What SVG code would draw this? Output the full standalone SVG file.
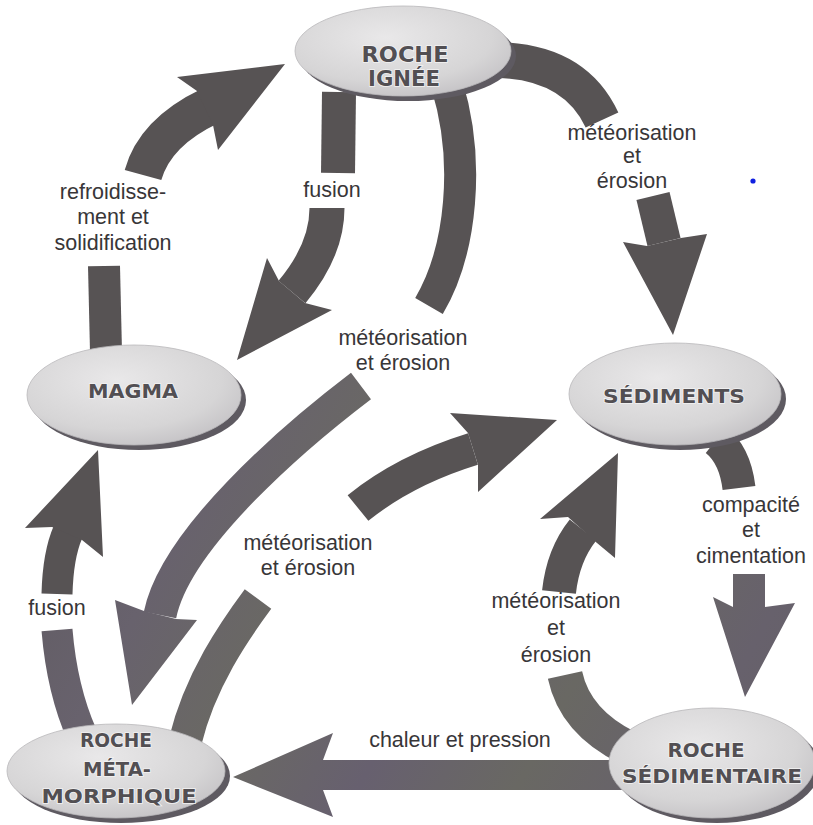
<svg xmlns="http://www.w3.org/2000/svg" width="813" height="825" viewBox="0 0 813 825">
<style>
.sh{fill:none;stroke-linecap:butt}
.dk{stroke:#575354}
.dkf{fill:#575354}
.tn{stroke:url(#tint)}
.tnf{fill:url(#tint)}
.shadow{fill:#5e5a61}
.oval{fill:url(#ovalg);stroke:#b9b7ba;stroke-width:0.8}
.nt{font-family:"DejaVu Sans","Liberation Sans",sans-serif;font-weight:bold;fill:#524f53;stroke:#f2f2f2;stroke-width:1.6;paint-order:stroke;text-anchor:middle}
.lb{font-family:"Liberation Sans",Arial,sans-serif;font-size:21.5px;fill:#383638;text-anchor:middle}
</style>
<defs>
<radialGradient id="ovalg" cx="0.42" cy="0.35" r="0.7">
<stop offset="0" stop-color="#e9e8e9"/>
<stop offset="0.7" stop-color="#d6d5d6"/>
<stop offset="1" stop-color="#c4c2c5"/>
</radialGradient>
<linearGradient id="tint" gradientUnits="userSpaceOnUse" x1="0" y1="380" x2="813" y2="825">
<stop offset="0" stop-color="#5c585b"/>
<stop offset="0.25" stop-color="#68626d"/>
<stop offset="0.4" stop-color="#6a6963"/>
<stop offset="0.55" stop-color="#67606f"/>
<stop offset="0.7" stop-color="#696863"/>
<stop offset="0.85" stop-color="#67616c"/>
<stop offset="1" stop-color="#646064"/>
</linearGradient>
</defs>
<rect width="813" height="825" fill="#ffffff"/>

<g id="connectors">
<g id="arrow-refroidissement">
<path class="sh dk" stroke-width="32" d="M104,266 L106,352"/>
<path class="sh dk" stroke-width="38" d="M143,175 C150,150 170,125 210,106"/>
<polygon class="dkf" points="177,77 285,64 218,150 213,125 197,91"/>
</g>
<g id="arrow-fusion-top">
<path class="sh dk" stroke-width="34" d="M339,92 L338,173"/>
<path class="sh dk" stroke-width="35" d="M327,208 C327,240 312,268 292,292"/>
<polygon class="dkf" points="267,258 279,281 305,303 332,310 237,360"/>
</g>
<g id="arrow-ignee-erosion-tail">
<path class="sh dk" stroke-width="32" d="M447,85 C470,160 462,250 429,306"/>
</g>
<g id="arrow-erosion-to-meta">
<path class="sh tn" stroke-width="33" d="M361,386 C290,440 175,540 160,615"/>
<polygon class="tnf" points="115,600 144,611 176,619 197,620 132,705"/>
</g>
<g id="arrow-meta-erosion-tail">
<path class="sh tn" stroke-width="33" d="M258,599 C235,630 200,680 185,742"/>
</g>
<g id="arrow-fusion-left">
<path class="sh tn" stroke-width="31" d="M57,630 Q62,690 82,735"/>
<path class="sh dk" stroke-width="31" d="M57,594 Q58,555 68,532"/>
<polygon class="dkf" points="25,528 52,527 82,540 103,557 98,450"/>
</g>
<g id="arrow-to-sediments-mid">
<path class="sh dk" stroke-width="33" d="M358,508 Q405,470 473,449"/>
<polygon class="dkf" points="450,413 468,433 478,465 478,492 557,420"/>
</g>
<g id="arrow-ignee-right-tail">
<path class="sh dk" stroke-width="36" d="M498,60 Q575,62 602,120"/>
</g>
<g id="arrow-to-sediments-top">
<path class="sh dk" stroke-width="34" d="M653,196 L664,242"/>
<polygon class="dkf" points="623,242 647,246 681,238 707,234 673,335"/>
</g>
<g id="arrow-compacite-tail">
<path class="sh dk" stroke-width="33" d="M716,440 Q735,455 739,488"/>
</g>
<g id="arrow-to-sedimentaire">
<path class="sh tn" stroke-width="32" d="M749,574 L749,608"/>
<polygon class="tnf" points="713,597 733,607 765,607 795,603 745,697"/>
</g>
<g id="arrow-sedimentaire-erosion">
<path class="sh tn" stroke-width="35" d="M565,675 Q575,722 628,748"/>
<path class="sh dk" stroke-width="34" d="M559,592 Q563,555 583,530"/>
<polygon class="dkf" points="540,519 568,517 597,543 615,558 618,453"/>
</g>
<g id="arrow-chaleur-pression">
<path class="sh tn" stroke-width="30" d="M320,775 L625,775"/>
<polygon class="tnf" points="333,733 323,760 323,790 333,817 233,777"/>
</g>
</g>

<g id="labels">
<text class="lb" x="113" y="199">refroidisse-</text>
<text class="lb" x="113" y="224">ment et</text>
<text class="lb" x="113" y="250">solidification</text>
<text class="lb" x="332" y="197">fusion</text>
<text class="lb" x="403" y="345">météorisation</text>
<text class="lb" x="403" y="370">et érosion</text>
<text class="lb" x="632" y="140">météorisation</text>
<text class="lb" x="632" y="163">et</text>
<text class="lb" x="632" y="188">érosion</text>
<text class="lb" x="751" y="512">compacité</text>
<text class="lb" x="751" y="537">et</text>
<text class="lb" x="751" y="563">cimentation</text>
<text class="lb" x="556" y="608">météorisation</text>
<text class="lb" x="556" y="635">et</text>
<text class="lb" x="556" y="662">érosion</text>
<text class="lb" x="308" y="550">météorisation</text>
<text class="lb" x="308" y="575">et érosion</text>
<text class="lb" x="57" y="615">fusion</text>
<text class="lb" x="460" y="747">chaleur et pression</text>
</g>

<g id="node-roche-ignee">
<ellipse class="shadow" cx="408" cy="56" rx="108" ry="45"/>
<ellipse class="oval" cx="403" cy="51" rx="108" ry="45"/>
<text class="nt" font-size="21" x="405" y="62" textLength="87" lengthAdjust="spacingAndGlyphs">ROCHE</text>
<text class="nt" font-size="21" x="404" y="86" textLength="72" lengthAdjust="spacingAndGlyphs">IGNÉE</text>
</g>
<g id="node-magma">
<ellipse class="shadow" cx="139" cy="400" rx="107" ry="50"/>
<ellipse class="oval" cx="134" cy="395" rx="107" ry="50"/>
<text class="nt" font-size="19" x="133" y="398" textLength="90" lengthAdjust="spacingAndGlyphs">MAGMA</text>
</g>
<g id="node-sediments">
<ellipse class="shadow" cx="680" cy="399" rx="106" ry="51"/>
<ellipse class="oval" cx="675" cy="394" rx="106" ry="51"/>
<text class="nt" font-size="20" x="674" y="403" textLength="142" lengthAdjust="spacingAndGlyphs">SÉDIMENTS</text>
</g>
<g id="node-roche-metamorphique">
<ellipse class="shadow" cx="121" cy="776" rx="109" ry="47"/>
<ellipse class="oval" cx="116" cy="771" rx="109" ry="47"/>
<text class="nt" font-size="19" x="116" y="747" textLength="72" lengthAdjust="spacingAndGlyphs">ROCHE</text>
<text class="nt" font-size="19" x="117" y="776" textLength="68" lengthAdjust="spacingAndGlyphs">MÉTA-</text>
<text class="nt" font-size="19" x="119" y="803" textLength="155" lengthAdjust="spacingAndGlyphs">MORPHIQUE</text>
</g>
<g id="node-roche-sedimentaire">
<ellipse class="shadow" cx="717" cy="768" rx="103" ry="55"/>
<ellipse class="oval" cx="712" cy="763" rx="103" ry="55"/>
<text class="nt" font-size="20" x="706" y="757" textLength="77" lengthAdjust="spacingAndGlyphs">ROCHE</text>
<text class="nt" font-size="20" x="712" y="783" textLength="180" lengthAdjust="spacingAndGlyphs">SÉDIMENTAIRE</text>
</g>

<circle cx="753" cy="181" r="2.6" fill="#1020e0"/>
</svg>
